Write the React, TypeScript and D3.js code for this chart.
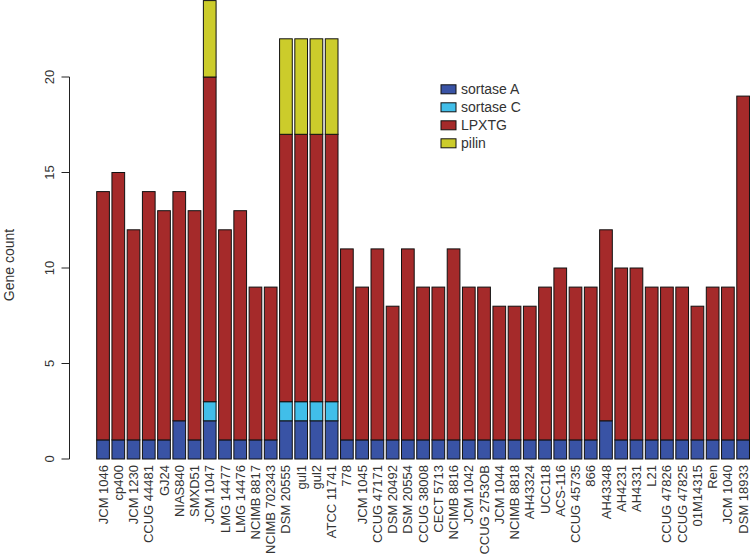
import React from "react";
import * as d3 from "d3";

const strains = [
  "JCM 1046", "cp400", "JCM 1230", "CCUG 44481", "GJ24", "NIAS840", "SMXD51", "JCM 1047",
  "LMG 14477", "LMG 14476", "NCIMB 8817", "NCIMB 702343", "DSM 20555", "gul1", "gul2",
  "ATCC 11741", "778", "JCM 1045", "CCUG 47171", "DSM 20492", "DSM 20554", "CCUG 38008",
  "CECT 5713", "NCIMB 8816", "JCM 1042", "CCUG 2753OB", "JCM 1044", "NCIMB 8818", "AH43324",
  "UCC118", "ACS-116", "CCUG 45735", "866", "AH43348", "AH4231", "AH4331", "L21",
  "CCUG 47826", "CCUG 47825", "01M14315", "Ren", "JCM 1040", "DSM 18933",
];

const sortaseA = [1, 1, 1, 1, 1, 2, 1, 2, 1, 1, 1, 1, 2, 2, 2, 2, 1, 1, 1, 1, 1, 1, 1, 1, 1, 1, 1, 1, 1, 1, 1, 1, 1, 2, 1, 1, 1, 1, 1, 1, 1, 1, 1];
const sortaseC = [0, 0, 0, 0, 0, 0, 0, 1, 0, 0, 0, 0, 1, 1, 1, 1, 0, 0, 0, 0, 0, 0, 0, 0, 0, 0, 0, 0, 0, 0, 0, 0, 0, 0, 0, 0, 0, 0, 0, 0, 0, 0, 0];
const lpxtg = [13, 14, 11, 13, 12, 12, 12, 17, 11, 12, 8, 8, 14, 14, 14, 14, 10, 8, 10, 7, 10, 8, 8, 10, 8, 8, 7, 7, 7, 8, 9, 8, 8, 10, 9, 9, 8, 8, 8, 7, 8, 8, 18];
const pilin = [0, 0, 0, 0, 0, 0, 0, 4, 0, 0, 0, 0, 5, 5, 5, 5, 0, 0, 0, 0, 0, 0, 0, 0, 0, 0, 0, 0, 0, 0, 0, 0, 0, 0, 0, 0, 0, 0, 0, 0, 0, 0, 0];

const seriesNames = ["sortase A", "sortase C", "LPXTG", "pilin"];
const seriesColors = ["#3953a5", "#41bee9", "#a52a2a", "#cccc2b"];
const yTicks = [0, 5, 10, 15, 20];

const FONT = "'Liberation Sans', Arial, Helvetica, sans-serif";

export default function App() {
  const W = 750;
  const H = 554;
  const x = d3
    .scaleBand<string>()
    .domain(strains)
    .range([95.43, 750.75])
    .paddingInner(0.2 / 1.2)
    .paddingOuter(0.1 / 1.2);
  const y = d3.scaleLinear().domain([0, 20]).range([459, 77]);

  const table = strains.map((s, i) => ({
    strain: s,
    "sortase A": sortaseA[i],
    "sortase C": sortaseC[i],
    LPXTG: lpxtg[i],
    pilin: pilin[i],
  }));
  const stacked = d3.stack<any>().keys(seriesNames)(table);

  return (
    <svg
      width={W}
      height={H}
      style={{ position: "absolute", left: 0, top: 0, background: "#fff" }}
      fontFamily={FONT}
    >
      {stacked.map((layer, li) => (
        <g key={layer.key} fill={seriesColors[li]} stroke="#111" strokeWidth={1}>
          {layer.map((d, i) =>
            d[1] - d[0] > 0 ? (
              <rect
                key={i}
                x={x(strains[i])!}
                width={x.bandwidth()}
                y={y(d[1])}
                height={y(d[0]) - y(d[1])}
              />
            ) : null
          )}
        </g>
      ))}

      {/* y axis */}
      <line x1={69.5} x2={69.5} y1={y(0)} y2={y(20)} stroke="#222" strokeWidth={1} />
      {yTicks.map((t) => (
        <g key={t}>
          <line x1={61.5} x2={69.5} y1={y(t)} y2={y(t)} stroke="#222" strokeWidth={1} />
          <text
            transform={`translate(49,${y(t)}) rotate(-90)`}
            textAnchor="middle"
            dy="0.35em"
            fontSize={13}
            fill="#333"
          >
            {t}
          </text>
        </g>
      ))}
      <text
        transform={`translate(9,265) rotate(-90)`}
        textAnchor="middle"
        dy="0.35em"
        fontSize={14}
        fill="#333"
      >
        Gene count
      </text>

      {/* x labels */}
      {strains.map((s) => (
        <text
          key={s}
          transform={`translate(${x(s)! + x.bandwidth() / 2},465) rotate(-90)`}
          textAnchor="end"
          dy="0.35em"
          fontSize={13}
          fill="#333"
        >
          {s}
        </text>
      ))}

      {/* legend */}
      {seriesNames.map((n, i) => (
        <g key={n} transform={`translate(441,${89.3 + i * 18})`}>
          <rect x={0} y={-4.5} width={15} height={9} fill={seriesColors[i]} stroke="#111" strokeWidth={1} />
          <text x={20} dy="0.35em" fontSize={14} fill="#333">
            {n}
          </text>
        </g>
      ))}
    </svg>
  );
}
